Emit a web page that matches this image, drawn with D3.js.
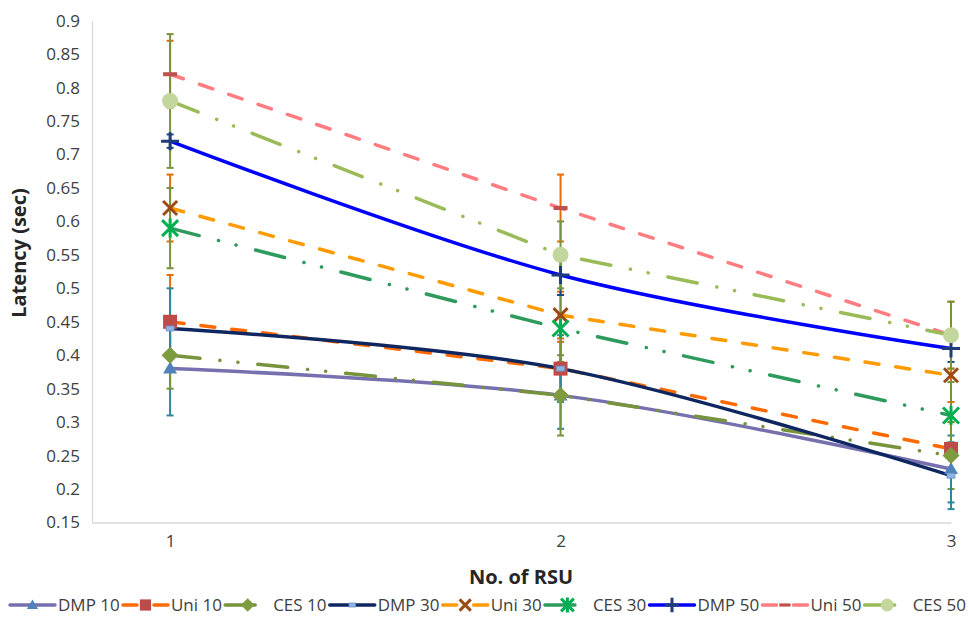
<!DOCTYPE html>
<html>
<head>
<meta charset="utf-8">
<script src="https://cdn.jsdelivr.net/npm/d3@7"></script>
<style>
  body { margin: 0; background: #fff; }
  svg { display: block; font-family: "Open Sans", sans-serif; }
</style>
</head>
<body>
<div id="chart"></div>
<script>
// x categories (number of RSU) and y ticks
var rsu = [1, 2, 3];
var yTicks = [0.15, 0.2, 0.25, 0.3, 0.35, 0.4, 0.45, 0.5, 0.55, 0.6, 0.65, 0.7, 0.75, 0.8, 0.85, 0.9];

var seriesNames = ["DMP 10", "Uni 10", "CES 10", "DMP 30", "Uni 30", "CES 30", "DMP 50", "Uni 50", "CES 50"];

// latency values
var dmp10 = [0.38, 0.34, 0.23];
var uni10 = [0.45, 0.38, 0.26];
var ces10 = [0.40, 0.34, 0.25];
var dmp30 = [0.44, 0.38, 0.22];
var uni30 = [0.62, 0.46, 0.37];
var ces30 = [0.59, 0.44, 0.31];
var dmp50 = [0.72, 0.52, 0.41];
var uni50 = [0.82, 0.62, 0.43];
var ces50 = [0.78, 0.55, 0.43];

// error bar half-lengths
var dmp10Err = [0.07, 0.05, 0.05];
var uni10Err = [0.07, 0.04, 0.04];
var ces10Err = [0.05, 0.06, 0.05];
var dmp30Err = [0.06, 0.05, 0.05];
var uni30Err = [0.05, 0.035, 0.04];
var ces30Err = [0.06, 0.05, 0.05];
var dmp50Err = [0.01, 0.03, 0.02];
var uni50Err = [0.05, 0.05, 0.05];
var ces50Err = [0.10, 0.05, 0.05];

var values = [dmp10, uni10, ces10, dmp30, uni30, ces30, dmp50, uni50, ces50];
var errors = [dmp10Err, uni10Err, ces10Err, dmp30Err, uni30Err, ces30Err, dmp50Err, uni50Err, ces50Err];

// styles per series (same order as seriesNames)
var styles = [
    { color: "#7670AE", width: 3.5, dash: null, smooth: true, marker: "triangle", err: "#31859C" },
    { color: "#FF6A00", width: 3.5, dash: "14,17", smooth: false, marker: "square", err: "#E46C0A" },
    { color: "#77933C", width: 3.5, dash: "30,20,0.1,18,0.1,20", smooth: false, marker: "diamond", err: "#77933C" },
    { color: "#0F2760", width: 3.5, dash: null, smooth: true, marker: "smallrect", err: "#31859C" },
    { color: "#FF9A00", width: 3.5, dash: "14,17", smooth: false, marker: "x", err: "#E46C0A" },
    { color: "#2E9A5C", width: 3.5, dash: "30,20,0.1,18,0.1,20", smooth: false, marker: "star", err: "#77933C" },
    { color: "#0000FF", width: 3.5, dash: null, smooth: true, marker: "plus", err: "#1F497D" },
    { color: "#FF7C80", width: 3.5, dash: "14,17", smooth: false, marker: "dash", err: "#E46C0A" },
    { color: "#9BBB59", width: 3.5, dash: "30,20,0.1,18,0.1,20", smooth: false, marker: "circle", err: "#77933C" }
];

var series = seriesNames.map(function(name, i) {
    return {
        name: name,
        style: styles[i],
        points: rsu.map(function(r, j) { return { x: r, y: values[i][j], e: errors[i][j] }; })
    };
});

var W = 969, H = 619;
var svg = d3.select("#chart").append("svg")
    .attr("width", W)
    .attr("height", H);

var x = d3.scaleLinear().domain([0.8, 3]).range([92, 951]);
var y = d3.scaleLinear().domain([0.15, 0.9]).range([522.5, 20.7]);

// axes
var yAxis = svg.append("g")
    .attr("transform", "translate(92,0)")
    .call(d3.axisLeft(y).tickValues(yTicks).tickSize(0).tickPadding(12).tickFormat(d3.format("~g")));
var xAxis = svg.append("g")
    .attr("transform", "translate(0,522.5)")
    .call(d3.axisBottom(x).tickValues(rsu).tickSize(0).tickPadding(12).tickFormat(d3.format("d")));

[yAxis, xAxis].forEach(function(a) {
    a.select(".domain").attr("stroke", "#D9D9D9").attr("stroke-width", 1.3);
    a.selectAll("text")
        .attr("fill", "#404040")
        .style("font-size", "17px")
        .style("font-family", "'Open Sans', sans-serif");
});

// axis titles
svg.append("text")
    .attr("x", 521)
    .attr("y", 584)
    .attr("text-anchor", "middle")
    .attr("fill", "#262626")
    .style("font-size", "20px")
    .style("font-weight", "bold")
    .text("No. of RSU");

svg.append("text")
    .attr("transform", "translate(26,253) rotate(-90)")
    .attr("text-anchor", "middle")
    .attr("fill", "#262626")
    .style("font-size", "20px")
    .style("font-weight", "bold")
    .text("Latency (sec)");

// error bars
var errG = svg.append("g");
series.forEach(function(s) {
    s.points.forEach(function(p) {
        var g = errG.append("g").attr("stroke", s.style.err).attr("stroke-width", 2);
        g.append("line")
            .attr("x1", x(p.x)).attr("x2", x(p.x))
            .attr("y1", y(p.y - p.e)).attr("y2", y(p.y + p.e));
        [p.y - p.e, p.y + p.e].forEach(function(v) {
            g.append("line")
                .attr("x1", x(p.x) - 3.5).attr("x2", x(p.x) + 3.5)
                .attr("y1", y(v)).attr("y2", y(v));
        });
    });
});

// lines
var lineStraight = d3.line().x(function(d) { return x(d.x); }).y(function(d) { return y(d.y); });
var lineSmooth = d3.line().x(function(d) { return x(d.x); }).y(function(d) { return y(d.y); })
    .curve(d3.curveCardinal.tension(0));

function styleLine(sel, st) {
    sel.attr("fill", "none")
        .attr("stroke", st.color)
        .attr("stroke-width", st.width)
        .attr("stroke-linecap", "round")
        .attr("stroke-linejoin", "round");
    if (st.dash) sel.attr("stroke-dasharray", st.dash);
    return sel;
}

series.forEach(function(s) {
    styleLine(svg.append("path").attr("d", (s.style.smooth ? lineSmooth : lineStraight)(s.points)), s.style);
});

// markers
function drawMarker(g, type, k) {
    k = k || 1;
    switch (type) {
        case "triangle":
            g.append("path").attr("d", "M0," + (-7 * k) + "L" + (7 * k) + "," + (5 * k) + "L" + (-7 * k) + "," + (5 * k) + "Z")
                .attr("fill", "#4F81BD");
            break;
        case "square":
            g.append("rect").attr("x", -7 * k).attr("y", -7 * k).attr("width", 14 * k).attr("height", 14 * k)
                .attr("fill", "#BE4B48");
            break;
        case "diamond":
            g.append("path").attr("d", "M0," + (-8.5 * k) + "L" + (8.5 * k) + ",0L0," + (8.5 * k) + "L" + (-8.5 * k) + ",0Z")
                .attr("fill", "#7E9B3F");
            break;
        case "smallrect":
            g.append("rect").attr("x", -4 * k).attr("y", -2.5 * k).attr("width", 8 * k).attr("height", 5 * k)
                .attr("fill", "#8DB4E2").attr("stroke", "#6A93C8").attr("stroke-width", 0.8);
            break;
        case "x":
            g.append("path").attr("d", "M-7,-7L7,7M-7,7L7,-7").attr("transform", "scale(" + k + ")")
                .attr("stroke", "#9C4A14").attr("stroke-width", 3 / k).attr("fill", "none");
            break;
        case "star":
            g.append("path").attr("d", "M-8,-8L8,8M-8,8L8,-8M0,-9.5L0,9.5").attr("transform", "scale(" + k + ")")
                .attr("stroke", "#00B050").attr("stroke-width", 3 / k).attr("fill", "none");
            break;
        case "plus":
            g.append("path").attr("d", "M-9,0L9,0M0,-9L0,9").attr("transform", "scale(" + k + ")")
                .attr("stroke", "#1F3C78").attr("stroke-width", 3 / k).attr("fill", "none");
            break;
        case "dash":
            g.append("rect").attr("x", -7 * k).attr("y", -2 * k).attr("width", 14 * k).attr("height", 4 * k)
                .attr("fill", "#C0504D");
            break;
        case "circle":
            g.append("circle").attr("r", 8 * k).attr("fill", "#C3D69B");
            break;
    }
}

series.forEach(function(s) {
    s.points.forEach(function(p) {
        var g = svg.append("g").attr("transform", "translate(" + x(p.x) + "," + y(p.y) + ")");
        drawMarker(g, s.style.marker, 1);
    });
});

// legend
var legend = svg.append("g").attr("transform", "translate(0,605)");
var sampleW = 45, textGap = 3;
var items = series.map(function(s) {
    var g = legend.append("g");
    styleLine(g.append("line").attr("x1", 0).attr("x2", sampleW).attr("y1", 0).attr("y2", 0), s.style);
    var mg = g.append("g").attr("transform", "translate(" + (sampleW / 2) + ",0)");
    drawMarker(mg, s.style.marker, 0.8);
    var t = g.append("text")
        .attr("x", sampleW + textGap)
        .attr("dy", "0.35em")
        .attr("fill", "#404040")
        .style("font-size", "17px")
        .text(s.name);
    return { g: g, w: sampleW + textGap + t.node().getComputedTextLength() };
});
var totalW = d3.sum(items, function(d) { return d.w; });
var left = 10, right = 966;
var gap = (right - left - totalW) / (items.length - 1);
var cx = left;
items.forEach(function(it) {
    it.g.attr("transform", "translate(" + cx + ",0)");
    cx += it.w + gap;
});
</script>
</body>
</html>
